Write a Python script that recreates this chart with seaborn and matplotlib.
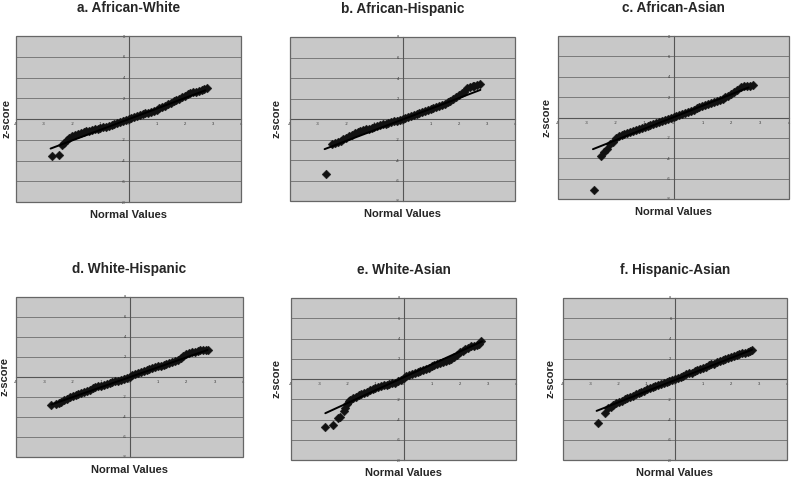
import matplotlib
matplotlib.use('Agg')

import seaborn as sns
import matplotlib.pyplot as plt
from matplotlib.patches import Rectangle

# panel titles
TITLES = ['a. African-White', 'b. African-Hispanic', 'c. African-Asian',
          'd. White-Hispanic', 'e. White-Asian', 'f. Hispanic-Asian']

A_NORMAL = [-2.73, -2.46, -2.35, -2.3, -2.2, -2.1, -2.0, -1.9, -1.8, -1.7, -1.6, -1.5, -1.4, -1.3, -1.2, -1.1,
            -1.0, -0.9, -0.8, -0.7, -0.6, -0.5, -0.4, -0.3, -0.2, -0.1, 0.0, 0.1, 0.2, 0.3, 0.4, 0.5, 0.6, 0.7,
            0.8, 0.9, 1.0, 1.1, 1.2, 1.3, 1.4, 1.5, 1.6, 1.7, 1.8, 1.9, 2.0, 2.1, 2.2, 2.3, 2.4, 2.5, 2.6, 2.7, 2.78]
A_Z = [-3.6, -3.43, -2.5, -2.35, -2.05, -1.82, -1.67, -1.55, -1.44, -1.33, -1.25, -1.18, -1.12, -1.06, -1.0, -0.94,
       -0.87, -0.81, -0.74, -0.66, -0.58, -0.5, -0.42, -0.32, -0.22, -0.1, 0.0, 0.1, 0.19, 0.29, 0.38, 0.47, 0.55, 0.62,
       0.7, 0.8, 0.9, 1.02, 1.15, 1.28, 1.41, 1.55, 1.7, 1.83, 1.96, 2.1, 2.24, 2.38, 2.5, 2.58, 2.63, 2.7, 2.76, 2.86, 3.0]

B_NORMAL = [-2.73, -2.5, -2.4, -2.3, -2.2, -2.1, -2.0, -1.9, -1.8, -1.7, -1.6, -1.5, -1.4, -1.3, -1.2, -1.1,
            -1.0, -0.9, -0.8, -0.7, -0.6, -0.5, -0.4, -0.3, -0.2, -0.1, 0.0, 0.1, 0.2, 0.3, 0.4, 0.5, 0.6, 0.7,
            0.8, 0.9, 1.0, 1.1, 1.2, 1.3, 1.4, 1.5, 1.6, 1.7, 1.8, 1.9, 2.0, 2.1, 2.2, 2.3, 2.4, 2.5, 2.55, 2.65, 2.75]
B_Z = [-5.33, -2.45, -2.33, -2.22, -2.1, -1.96, -1.82, -1.67, -1.53, -1.4, -1.29, -1.18, -1.1, -1.01, -0.93, -0.85,
       -0.77, -0.69, -0.6, -0.52, -0.44, -0.36, -0.3, -0.23, -0.16, -0.1, 0.03, 0.11, 0.2, 0.28, 0.36, 0.46, 0.56, 0.65,
       0.75, 0.85, 0.95, 1.05, 1.14, 1.24, 1.34, 1.47, 1.63, 1.8, 2.0, 2.15, 2.32, 2.5, 2.68, 3.0, 3.17, 3.2, 3.24, 3.3, 3.43]

C_NORMAL = [-2.75, -2.52, -2.4, -2.3, -2.2, -2.1, -2.0, -1.9, -1.8, -1.7, -1.6, -1.5, -1.4, -1.3, -1.2, -1.1,
            -1.0, -0.9, -0.8, -0.7, -0.6, -0.5, -0.4, -0.3, -0.2, -0.1, 0.0, 0.1, 0.2, 0.3, 0.4, 0.5, 0.6, 0.7,
            0.8, 0.9, 1.0, 1.1, 1.2, 1.3, 1.4, 1.5, 1.6, 1.7, 1.8, 1.9, 2.0, 2.1, 2.2, 2.35, 2.45, 2.55, 2.65, 2.75]
C_Z = [-7.15, -3.77, -3.35, -3.05, -2.65, -2.36, -1.97, -1.82, -1.7, -1.6, -1.51, -1.41, -1.31, -1.21, -1.11, -1.01,
       -0.92, -0.83, -0.75, -0.65, -0.56, -0.46, -0.36, -0.26, -0.16, -0.05, 0.07, 0.16, 0.26, 0.36, 0.46, 0.56, 0.66,
       0.77, 0.89, 1.0, 1.11, 1.21, 1.31, 1.41, 1.51, 1.6, 1.7, 1.82, 1.97, 2.15, 2.33, 2.5, 2.69, 3.02, 3.05, 3.08,
       3.12, 3.18]

D_NORMAL = [-2.75, -2.6, -2.5, -2.4, -2.3, -2.2, -2.1, -2.0, -1.9, -1.8, -1.7, -1.6, -1.5, -1.4, -1.3, -1.2, -1.1,
            -1.0, -0.9, -0.8, -0.7, -0.6, -0.5, -0.4, -0.3, -0.2, -0.1, 0.0, 0.1, 0.2, 0.3, 0.4, 0.5, 0.6, 0.7,
            0.8, 0.9, 1.0, 1.1, 1.2, 1.3, 1.4, 1.5, 1.6, 1.7, 1.8, 1.9, 2.0, 2.1, 2.2, 2.3, 2.4, 2.5, 2.6, 2.68, 2.75]
D_Z = [-2.83, -2.7, -2.6, -2.47, -2.33, -2.18, -2.03, -1.9, -1.77, -1.67, -1.57, -1.47, -1.37, -1.25, -1.13, -1.03,
       -0.93, -0.85, -0.77, -0.69, -0.6, -0.52, -0.43, -0.35, -0.27, -0.17, -0.07, 0.03, 0.17, 0.3, 0.42, 0.53, 0.63,
       0.73, 0.82, 0.9, 0.99, 1.07, 1.15, 1.23, 1.31, 1.4, 1.5, 1.6, 1.72, 1.87, 2.1, 2.33, 2.4, 2.47, 2.53, 2.6,
       2.66, 2.73, 2.75, 2.67]

E_NORMAL = [-2.78, -2.52, -2.34, -2.25, -2.13, -2.07, -2.02, -1.95, -1.9, -1.8, -1.7, -1.6, -1.5, -1.4, -1.3, -1.2,
            -1.1, -1.0, -0.9, -0.8, -0.7, -0.6, -0.5, -0.4, -0.3, -0.2, -0.1, 0.0, 0.1, 0.2, 0.3, 0.4, 0.5, 0.6, 0.7,
            0.8, 0.9, 1.0, 1.1, 1.2, 1.3, 1.4, 1.5, 1.6, 1.7, 1.8, 1.9, 2.0, 2.1, 2.2, 2.3, 2.4, 2.5, 2.6, 2.68, 2.75]
E_Z = [-4.77, -4.54, -3.88, -3.71, -3.12, -2.89, -2.5, -2.2, -2.1, -1.92, -1.73, -1.6, -1.47, -1.35, -1.24, -1.12,
       -1.0, -0.9, -0.81, -0.72, -0.64, -0.56, -0.48, -0.42, -0.35, -0.22, -0.08, 0.12, 0.25, 0.38, 0.5, 0.61, 0.71,
       0.81, 0.91, 1.01, 1.12, 1.24, 1.34, 1.44, 1.54, 1.63, 1.73, 1.83, 1.96, 2.13, 2.38, 2.62, 2.8, 2.95, 3.1, 3.22,
       3.3, 3.35, 3.5, 3.71]

F_NORMAL = [-2.76, -2.5, -2.4, -2.3, -2.2, -2.1, -2.0, -1.9, -1.8, -1.7, -1.6, -1.5, -1.4, -1.3, -1.2, -1.1,
            -1.0, -0.9, -0.8, -0.7, -0.6, -0.5, -0.4, -0.3, -0.2, -0.1, 0.0, 0.1, 0.2, 0.3, 0.4, 0.5, 0.6, 0.7,
            0.8, 0.9, 1.0, 1.1, 1.2, 1.3, 1.4, 1.5, 1.6, 1.7, 1.8, 1.9, 2.0, 2.1, 2.2, 2.3, 2.4, 2.5, 2.6, 2.68, 2.75]
F_Z = [-4.37, -3.32, -2.9, -2.72, -2.55, -2.39, -2.26, -2.13, -2.0, -1.86, -1.75, -1.63, -1.52, -1.4, -1.27, -1.14,
       -1.02, -0.91, -0.8, -0.68, -0.58, -0.48, -0.38, -0.28, -0.18, -0.08, 0.02, 0.11, 0.21, 0.33, 0.45, 0.55, 0.64,
       0.76, 0.87, 0.99, 1.11, 1.22, 1.34, 1.44, 1.53, 1.63, 1.73, 1.86, 2.0, 2.1, 2.19, 2.28, 2.36, 2.44, 2.52, 2.6,
       2.69, 2.78, 2.89]

# fitted reference lines (end points)
FIT_X = [[-2.77, 2.73], [-2.77, 2.77], [-2.79, 2.6], [-2.75, 2.75], [-2.78, 2.79], [-2.8, 2.75]]
FIT_Y = [[-2.85, 2.76], [-2.94, 2.84], [-3.11, 2.95], [-2.75, 2.7], [-3.38, 3.71], [-3.15, 2.89]]

X_TICKS = [-4, -3, -2, -1, 0, 1, 2, 3, 4]
Y_TICKS = [-8, -6, -4, -2, 0, 2, 4, 6, 8]

sns.set_style('white')
plt.rcParams['font.family'] = ['Liberation Sans', 'DejaVu Sans']

W, H = 791, 479
# axes boxes in pixels: left, top, right, bottom
BOXES = [(16, 36, 241, 202), (290, 37, 515, 201), (558, 36, 789, 199),
         (16, 297, 243, 457), (291, 298, 516, 460), (563, 298, 787, 460)]
YLAB_OFF = [-9, -13, -12, -11, -14, -13]

panels = [(A_NORMAL, A_Z), (B_NORMAL, B_Z), (C_NORMAL, C_Z),
          (D_NORMAL, D_Z), (E_NORMAL, E_Z), (F_NORMAL, F_Z)]

fig = plt.figure(figsize=(W / 100, H / 100), dpi=100)
fig.patch.set_facecolor('white')

for i, (xs, ys) in enumerate(panels):
    l, t, r, b = BOXES[i]
    ax = fig.add_axes([l / W, 1 - b / H, (r - l) / W, (b - t) / H])
    ax.set_facecolor('#c8c8c8')

    for yv in Y_TICKS[1:-1]:
        ax.axhline(yv, color='#7a7a7a', lw=0.7, zorder=0)

    sns.scatterplot(x=xs, y=ys, ax=ax, marker='D', s=20, color='#111111',
                    edgecolor='#111111', linewidth=0.3, zorder=3)
    sns.lineplot(x=FIT_X[i], y=FIT_Y[i], ax=ax, color='black', lw=1.4, zorder=4)

    ax.set_xlim(-4, 4)
    ax.set_ylim(-8, 8)
    ax.set_xticks(X_TICKS)
    ax.set_yticks(Y_TICKS)
    ax.set_xticklabels([str(v) for v in X_TICKS])
    ax.set_yticklabels([str(v) for v in Y_TICKS])
    ax.tick_params(labelsize=3, colors='#333333', length=2, width=0.6,
                   direction='inout', pad=1.5)

    ax.spines['left'].set_position(('data', 0))
    ax.spines['bottom'].set_position(('data', 0))
    ax.spines['top'].set_visible(False)
    ax.spines['right'].set_visible(False)
    for side in ['left', 'bottom']:
        ax.spines[side].set_color('#555555')
        ax.spines[side].set_linewidth(0.8)
    ax.add_patch(Rectangle((0, 0), 1, 1, transform=ax.transAxes, fill=False,
                           edgecolor='#666666', lw=0.9, zorder=5, clip_on=False))

    ax.annotate(TITLES[i], xy=(0.5, 1), xycoords='axes fraction', xytext=(0, 20),
                textcoords='offset points', ha='center', va='center',
                fontsize=9.8, fontweight='bold')
    ax.annotate('Normal Values', xy=(0.5, 0), xycoords='axes fraction', xytext=(0, -9.5),
                textcoords='offset points', ha='center', va='center',
                fontsize=8, fontweight='bold')
    ax.annotate('z-score', xy=(0, 0.5), xycoords='axes fraction', xytext=(YLAB_OFF[i] * 0.72, 0),
                textcoords='offset points', ha='center', va='center', rotation=90,
                fontsize=8, fontweight='bold')
    ax.set_xlabel('')
    ax.set_ylabel('')

plt.savefig('out.png', dpi=100)
plt.close()
